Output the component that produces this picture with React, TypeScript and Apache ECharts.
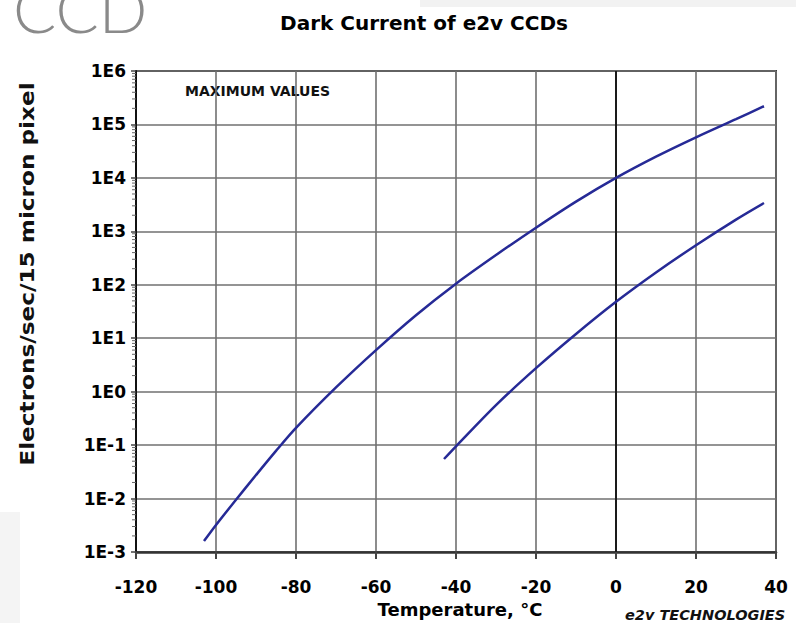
import React, { useEffect, useRef } from "react";
import * as echarts from "echarts";

// Upper curve (maximum dark current, first device family)
const tempsUpper = [-103, -100, -95, -90, -85, -80, -70, -60, -50, -40, -30, -20, -10, 0, 10, 20, 30, 37];
const valuesUpper = [0.0016, 0.0032, 0.0095, 0.0275, 0.078, 0.21, 1.2, 6.0, 27, 105, 360, 1170, 3600, 10000, 25000, 57500, 126000, 219000];

// Lower curve (maximum dark current, second device family)
const tempsLower = [-43, -40, -30, -20, -10, 0, 10, 20, 30, 37];
const valuesLower = [0.055, 0.095, 0.56, 2.75, 12, 48, 170, 550, 1660, 3390];

// Axis extents / ticks
const xMin = -120;
const xMax = 40;
const xStep = 20;
const yMin = 1e-3;
const yMax = 1e6;
const minorDecades = [-3, -2, -1, 0, 1, 2, 3, 4, 5];
const minorMultipliers = [2, 3, 4, 5, 6, 7, 8, 9];

const FONT = "'DejaVu Sans', 'Liberation Sans', Arial, sans-serif";
const CURVE = "#262a96";

export default function App() {
  const ref = useRef<HTMLDivElement>(null);

  useEffect(() => {
    if (!ref.current) return;
    const chart = echarts.init(ref.current, undefined, { renderer: "svg" });

    const upper = tempsUpper.map((t, i) => [t, valuesUpper[i]]);
    const lower = tempsLower.map((t, i) => [t, valuesLower[i]]);
    const minorTicks: number[][] = [];
    minorDecades.forEach((d) =>
      minorMultipliers.forEach((m) => minorTicks.push([xMin, m * Math.pow(10, d)]))
    );

    chart.setOption({
      animation: false,
      backgroundColor: "#ffffff",
      grid: {
        left: 136,
        right: 20,
        top: 71,
        bottom: 71,
        show: true,
        borderColor: "#3a3a3a",
        borderWidth: 2,
        backgroundColor: "transparent",
      },
      xAxis: {
        type: "value",
        min: xMin,
        max: xMax,
        interval: xStep,
        axisLine: { show: true, onZero: false, lineStyle: { color: "#333", width: 2.5 } },
        axisTick: { show: true, length: 7, lineStyle: { color: "#444", width: 2 } },
        axisLabel: {
          margin: 26,
          color: "#000",
          fontFamily: FONT,
          fontWeight: "bold",
          fontSize: 17,
        },
        splitLine: { show: true, lineStyle: { color: "#707070", width: 1.6 } },
      },
      yAxis: {
        type: "log",
        logBase: 10,
        min: yMin,
        max: yMax,
        interval: 1,
        axisLine: { show: true, onZero: false, lineStyle: { color: "#111", width: 2 } },
        axisTick: { show: true, length: 5, lineStyle: { color: "#444", width: 1.5 } },
        axisLabel: {
          margin: 10,
          color: "#000",
          fontFamily: FONT,
          fontWeight: "bold",
          fontSize: 17,
          formatter: (v: number) => "1E" + Math.round(Math.log10(v)),
        },
        splitLine: { show: true, lineStyle: { color: "#707070", width: 1.6 } },
      },
      graphic: [
        { type: "rect", shape: { x: 0, y: 512, width: 20, height: 111 }, style: { fill: "#f4f4f4" }, z: -10 },
        { type: "rect", shape: { x: 420, y: 0, width: 376, height: 7 }, style: { fill: "#f2f2f2" }, z: -10 },
        {
          type: "text",
          x: 13,
          y: 8,
          style: {
            text: "CCD",
            fontFamily: "Lato, 'Open Sans', sans-serif",
            fontWeight: 300,
            fontSize: 64,
            fill: "#8a8a8a",
            textAlign: "left",
            textVerticalAlign: "middle",
          },
        },
        {
          type: "text",
          x: 424,
          y: 23,
          style: {
            text: "Dark Current of e2v CCDs",
            fontFamily: FONT,
            fontWeight: "bold",
            fontSize: 20,
            fill: "#000",
            textAlign: "center",
            textVerticalAlign: "middle",
          },
        },
        {
          type: "text",
          x: 185,
          y: 91,
          style: {
            text: "MAXIMUM VALUES",
            fontFamily: FONT,
            fontWeight: "bold",
            fontSize: 14,
            fill: "#111",
            textAlign: "left",
            textVerticalAlign: "middle",
          },
        },
        {
          type: "text",
          x: 460,
          y: 609,
          style: {
            text: "Temperature, °C",
            fontFamily: FONT,
            fontWeight: "bold",
            fontSize: 18,
            fill: "#000",
            textAlign: "center",
            textVerticalAlign: "middle",
          },
        },
        {
          type: "text",
          x: 625,
          y: 614.5,
          style: {
            text: "e2v TECHNOLOGIES",
            fontFamily: FONT,
            fontWeight: "bold",
            fontStyle: "italic",
            fontSize: 14.5,
            fill: "#111",
            textAlign: "left",
            textVerticalAlign: "middle",
          },
        },
        {
          type: "text",
          x: 27,
          y: 274,
          rotation: Math.PI / 2,
          scaleX: 1.22,
          style: {
            text: "Electrons/sec/15 micron pixel",
            fontFamily: FONT,
            fontWeight: "bold",
            fontSize: 19,
            fill: "#111",
            textAlign: "center",
            textVerticalAlign: "middle",
          },
        },
      ],
      series: [
        {
          type: "custom",
          coordinateSystem: "cartesian2d",
          silent: true,
          clip: false,
          data: minorTicks,
          renderItem: (_params: any, api: any) => {
            const p = api.coord([api.value(0), api.value(1)]);
            return {
              type: "line",
              shape: { x1: p[0] - 4, y1: p[1], x2: p[0], y2: p[1] },
              style: { stroke: "#666", lineWidth: 1 },
            };
          },
          z: 3,
        },
        {
          type: "line",
          data: upper,
          smooth: 0.3,
          symbol: "none",
          lineStyle: { color: CURVE, width: 2.5 },
          z: 5,
          markLine: {
            silent: true,
            symbol: ["none", "none"],
            label: { show: false },
            lineStyle: { color: "#1a1a1a", width: 2, type: "solid" },
            data: [{ xAxis: 0 }],
            z: 2,
          },
        },
        {
          type: "line",
          data: lower,
          smooth: 0.3,
          symbol: "none",
          lineStyle: { color: CURVE, width: 2.5 },
          z: 5,
        },
      ],
    });

    return () => chart.dispose();
  }, []);

  return (
    <div
      ref={ref}
      style={{ position: "absolute", left: 0, top: 0, width: 796, height: 623 }}
    />
  );
}
